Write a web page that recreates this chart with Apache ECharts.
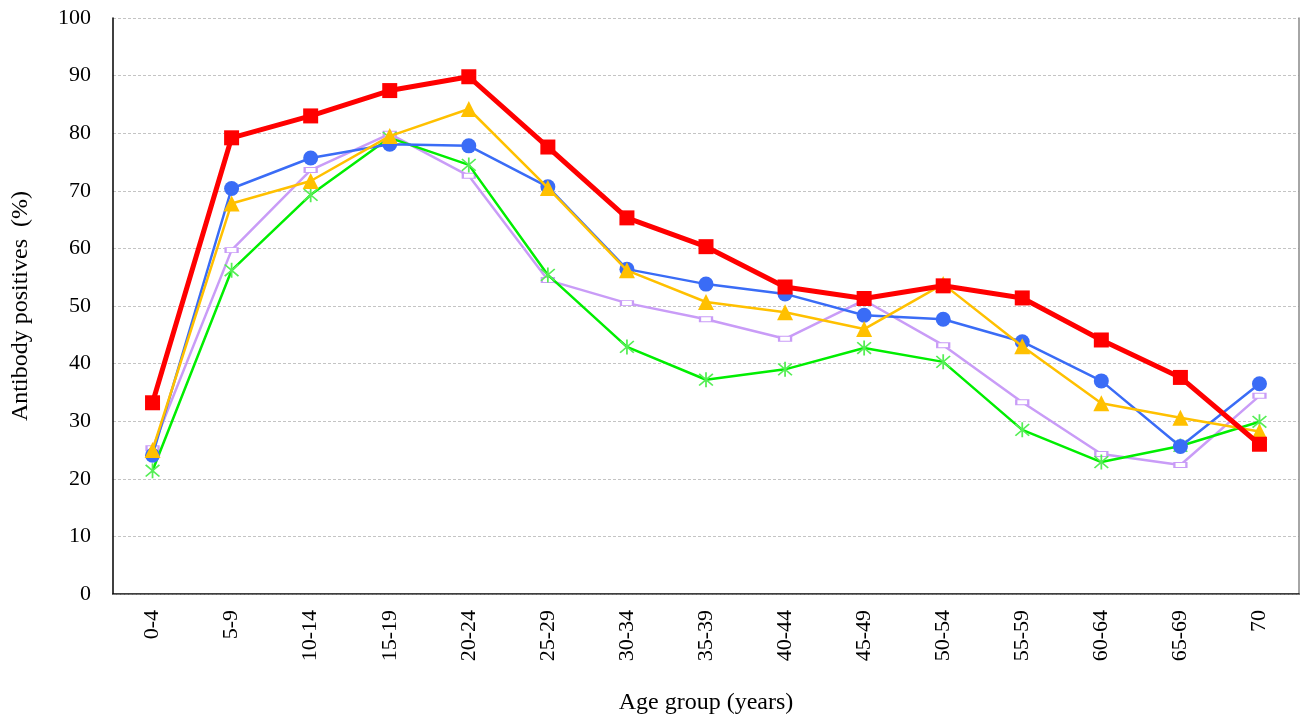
<!DOCTYPE html>
<html>
<head>
<meta charset="utf-8">
<script src="https://cdn.jsdelivr.net/npm/echarts@6/dist/echarts.min.js"></script>
<style>html,body{margin:0;padding:0;background:#fff}#c{width:1300px;height:718px}</style>
</head>
<body>
<div id="c"></div>
<script>
const categories = ['0-4','5-9','10-14','15-19','20-24','25-29','30-34','35-39','40-44','45-49','50-54','55-59','60-64','65-69','70'];
const redSeries    = [33.2, 79.2, 83.0, 87.4, 89.8, 77.6, 65.3, 60.3, 53.3, 51.3, 53.5, 51.4, 44.1, 37.6, 26.0];
const blueSeries   = [24.1, 70.4, 75.7, 78.1, 77.8, 70.7, 56.4, 53.8, 52.1, 48.4, 47.7, 43.8, 37.0, 25.6, 36.5];
const yellowSeries = [25.0, 67.8, 71.7, 79.5, 84.2, 70.5, 56.2, 50.7, 48.9, 46.0, 53.8, 43.0, 33.1, 30.6, 28.2];
const greenSeries  = [21.4, 56.2, 69.3, 79.2, 74.5, 55.4, 42.9, 37.2, 39.0, 42.7, 40.3, 28.5, 22.9, 25.7, 29.9];
const purpleSeries = [25.3, 59.7, 73.6, 79.9, 72.6, 54.5, 50.5, 47.7, 44.3, 51.0, 43.2, 33.3, 24.3, 22.4, 34.4];
const yTicks = [0,10,20,30,40,50,60,70,80,90,100];

const font = 'Liberation Serif';
const asterisk = 'path://M9,0 L11,0 L11,20 L9,20 Z M1.5,2.9 L2.9,1.5 L18.5,17.1 L17.1,18.5 Z M17.1,1.5 L18.5,2.9 L2.9,18.5 L1.5,17.1 Z';

const chart = echarts.init(document.getElementById('c'), null, {renderer:'canvas'});
chart.setOption({
  animation: false,
  backgroundColor: '#fff',
  grid: {left: 113, right: 1, top: 18, bottom: 124, containLabel: false, outerBoundsMode: 'none'},
  xAxis: [{
    type: 'category', data: categories, boundaryGap: true, position: 'bottom',
    axisLine: {lineStyle: {color: '#000', width: 1.5}},
    axisTick: {show: false},
    axisLabel: {rotate: 90, margin: 16, color: '#000', fontFamily: font, fontSize: 22},
    name: 'Age group (years)', nameLocation: 'middle', nameGap: 97,
    nameTextStyle: {color: '#000', fontFamily: font, fontSize: 24}
  }, {
    type: 'category', data: categories, position: 'top',
    axisLine: {lineStyle: {color: '#777', width: 1, type: [3, 1]}},
    axisTick: {show: false}, axisLabel: {show: false}
  }],
  yAxis: [{
    type: 'value', min: 0, max: 100, interval: 10,
    axisLine: {show: true, lineStyle: {color: '#000', width: 1.5}},
    axisTick: {show: false},
    axisLabel: {margin: 22, color: '#000', fontFamily: font, fontSize: 22,
      formatter: v => yTicks.includes(v) ? String(v) : ''},
    splitLine: {lineStyle: {color: '#c4c4c4', type: [3, 2], width: 1}},
    name: 'Antibody positives  (%)', nameLocation: 'middle', nameGap: 80, nameRotate: 90,
    nameTextStyle: {color: '#000', fontFamily: font, fontSize: 24}
  }, {
    type: 'value', min: 0, max: 100, position: 'right',
    axisLine: {show: true, lineStyle: {color: '#888', width: 1.5}},
    axisTick: {show: false}, axisLabel: {show: false}, splitLine: {show: false}
  }],
  series: [
    {type: 'line', name: 'purple', data: purpleSeries, symbol: 'rect', symbolSize: [12, 5], z: 2,
      lineStyle: {color: '#c99cf7', width: 2.5},
      itemStyle: {color: '#fff', borderColor: '#c99cf7', borderWidth: 1.5}},
    {type: 'line', name: 'green', data: greenSeries, symbol: asterisk, symbolSize: 15, z: 3,
      lineStyle: {color: '#00ee00', width: 2.5},
      itemStyle: {color: '#55ee55'}},
    {type: 'line', name: 'blue', data: blueSeries, symbol: 'circle', symbolSize: 15, z: 4,
      lineStyle: {color: '#3a6cf6', width: 2.5},
      itemStyle: {color: '#3a6cf6'}},
    {type: 'line', name: 'yellow', data: yellowSeries, symbol: 'triangle', symbolSize: 16, z: 5,
      lineStyle: {color: '#ffc000', width: 2.5},
      itemStyle: {color: '#ffc000'}},
    {type: 'line', name: 'red', data: redSeries, symbol: 'rect', symbolSize: 15, z: 6,
      lineStyle: {color: '#ff0000', width: 5},
      itemStyle: {color: '#ff0000'}}
  ]
});
</script>
</body>
</html>
